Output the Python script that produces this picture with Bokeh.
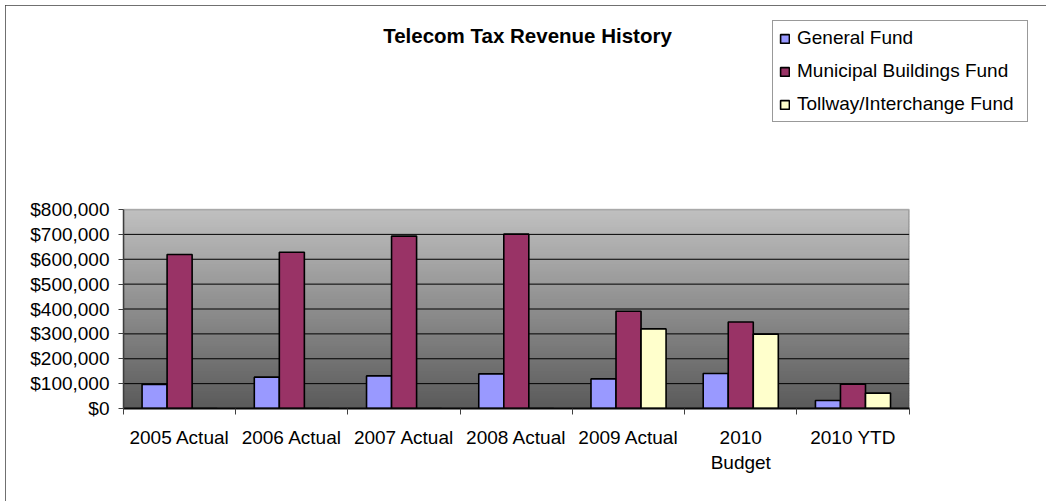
from bokeh.plotting import figure
from bokeh.models import (ColumnDataSource, Range1d, LinearAxis,
                          FixedTicker, NumeralTickFormatter, Legend, LegendItem, Label, BoxAnnotation)
from bokeh.transform import dodge
from bokeh.embed import file_html
from bokeh.resources import INLINE

# ---- data ----
categories = ["2005 Actual", "2006 Actual", "2007 Actual", "2008 Actual", "2009 Actual", "2010 Budget", "2010 YTD"]
general_fund = [97000, 126000, 131000, 139000, 119000, 141000, 32000]
municipal_buildings_fund = [619000, 628000, 693000, 701000, 391000, 348000, 98000]
tollway_interchange_fund = [0, 0, 0, 0, 320000, 299000, 62000]
series_names = ["General Fund", "Municipal Buildings Fund", "Tollway/Interchange Fund"]
y_ticks = [0, 100000, 200000, 300000, 400000, 500000, 600000, 700000, 800000]
title_text = "Telecom Tax Revenue History"

colors = ["#9999FF", "#993366", "#FFFFCC"]
FONT = "Liberation Sans"

ncat = len(categories)
ymax = y_ticks[-1]
centers = [i + 0.5 for i in range(ncat)]
src = ColumnDataSource(dict(xc=centers, gf=general_fund, mb=municipal_buildings_fund, ti=tollway_interchange_fund))

# ---- layout (pixels) ----
W, H = 1041, 496
ML, MR, MT, MB = 118, 10, 8, 93
plot_w, plot_h = 785.6, 199.0           # size of the bar plotting area inside the frame
frame_w, frame_h = W - ML - MR, H - MT - MB

p = figure(width=W, height=H,
           x_range=Range1d(0, ncat * frame_w / plot_w),
           y_range=Range1d(0, ymax * frame_h / plot_h),
           output_backend="svg", toolbar_location=None, x_axis_location=None, title=None,
           min_border_left=ML, min_border_right=MR, min_border_top=MT, min_border_bottom=MB)
p.background_fill_color = "white"
p.border_fill_color = "white"
p.outline_line_color = None
p.styles = {"margin-left": "5px", "margin-top": "5px",
            "width": f"{W}px", "height": f"{H}px",
            "outline": "2px solid #404040", "outline-offset": "-2px"}
p.xgrid.visible = False
p.ygrid.visible = False

# gradient background of plot area (light top -> dark bottom)
top_rgb = (192, 192, 192)
bot_rgb = (90, 90, 90)
n = 80
for i in range(n):
    t = (i + 0.5) / n
    c = tuple(int(round(bot_rgb[k] + (top_rgb[k] - bot_rgb[k]) * t)) for k in range(3))
    p.add_layout(BoxAnnotation(left=0, right=ncat, bottom=ymax * i / n, top=min(ymax, ymax * (i + 1.3) / n),
                               fill_color="#%02x%02x%02x" % c, fill_alpha=1, line_color=None,
                               level="image"))

# horizontal grid lines inside plot area
gsrc = ColumnDataSource(dict(y=y_ticks[1:-1]))
p.segment(x0=0, x1=ncat, y0="y", y1="y", source=gsrc, line_color="black", line_width=1)

# plot area border (top / right)
p.add_layout(BoxAnnotation(left=0, right=ncat, bottom=0, top=ymax, fill_color=None,
                           line_color="#303030", line_width=1.5))

# y axis
ya = p.yaxis[0]
ya.bounds = (0, ymax)
ya.ticker = FixedTicker(ticks=y_ticks)
ya.formatter = NumeralTickFormatter(format="$0,0")
ya.major_label_text_font = FONT
ya.major_label_text_font_size = "19px"
ya.major_label_text_color = "black"
ya.major_tick_out = 5
ya.major_tick_in = 0
ya.minor_tick_line_color = None
ya.axis_line_color = "#404040"
ya.axis_line_width = 1.5
ya.major_tick_line_color = "#404040"
ya.major_label_standoff = 9

# x tick axis at category boundaries
xt = LinearAxis(ticker=FixedTicker(ticks=list(range(ncat + 1))), bounds=(0, ncat))
xt.major_tick_out = 6
xt.major_tick_in = 0
xt.minor_tick_line_color = None
xt.axis_line_color = "black"
xt.axis_line_width = 2
xt.major_tick_line_color = "#404040"
xt.major_label_text_font_size = "1px"
xt.major_label_text_color = None
xt.major_label_standoff = 0
p.add_layout(xt, "below")

# x label axis (labels at category centres)
xl = LinearAxis(ticker=FixedTicker(ticks=centers))
xl.axis_line_color = None
xl.major_tick_line_color = None
xl.minor_tick_line_color = None
xl.major_label_text_font = FONT
xl.major_label_text_font_size = "19px"
xl.major_label_text_color = "black"
xl.major_label_standoff = 6
xl.major_label_overrides = {c: lab.replace("2010 Budget", "2010\nBudget") for c, lab in zip(centers, categories)}
p.add_layout(xl, "below")

# bars
bw = 0.223
r1 = p.vbar(x=dodge("xc", -bw), top="gf", width=bw, source=src,
            fill_color=colors[0], line_color="black", line_width=1.6)
r2 = p.vbar(x=dodge("xc", 0), top="mb", width=bw, source=src,
            fill_color=colors[1], line_color="black", line_width=1.6)
r3 = p.vbar(x=dodge("xc", bw), top="ti", width=bw, source=src,
            fill_color=colors[2], line_color="black", line_width=1.6)

legend = Legend(items=[LegendItem(label=series_names[0], renderers=[r1]),
                       LegendItem(label=series_names[1], renderers=[r2]),
                       LegendItem(label=series_names[2], renderers=[r3])],
                location=(649, 286), orientation="vertical")
legend.label_text_font = FONT
legend.label_text_font_size = "19px"
legend.label_text_color = "black"
legend.glyph_width = 11
legend.glyph_height = 11
legend.label_standoff = 7
legend.label_width = 224
legend.padding = 6
legend.spacing = 11
legend.margin = 0
legend.border_line_color = "#333333"
legend.border_line_width = 1
legend.background_fill_color = "white"
legend.background_fill_alpha = 1
p.add_layout(legend)

p.add_layout(Label(x=404, y=373, x_units="screen", y_units="screen", text=title_text,
                   text_font=FONT, text_font_size="20.5px", text_font_style="bold",
                   text_align="center", text_baseline="middle", text_color="black"))

open("out.html", "w").write(file_html(p, INLINE))
